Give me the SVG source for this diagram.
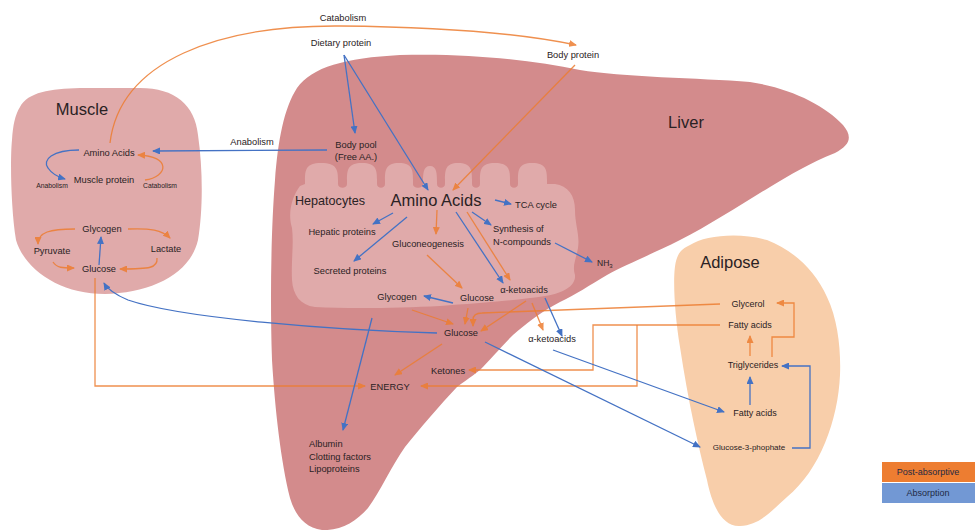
<svg xmlns="http://www.w3.org/2000/svg" width="976" height="530" viewBox="0 0 976 530">
<defs>
<marker id="ao" markerWidth="8" markerHeight="7" refX="7" refY="3.5" orient="auto" markerUnits="userSpaceOnUse"><path d="M0,0 L8,3.5 L0,7 z" fill="#ed7d31"/></marker>
<marker id="ab" markerWidth="8" markerHeight="7" refX="7" refY="3.5" orient="auto" markerUnits="userSpaceOnUse"><path d="M0,0 L8,3.5 L0,7 z" fill="#4472c4"/></marker>
<style>
text{font-family:"Liberation Sans",Arial,sans-serif;fill:#2a2224;font-size:9.3px;text-anchor:middle}
.t{font-size:16.5px}
.s{font-size:6.8px}
.l{text-anchor:start}
.o{fill:none;stroke:#ed7d31;stroke-width:1.3;opacity:0.85}
.b{fill:none;stroke:#4472c4;stroke-width:1.3}
.oa{marker-end:url(#ao)}
.ba{marker-end:url(#ab)}
</style>
</defs>
<rect width="976" height="530" fill="#ffffff"/>

<g id="liver">
<path d="M322,530 C305,528 295,515 290,498 C281,462 275,410 272,360 C270,300 271,230 275,180 C278,140 284,108 297,88 C312,67 345,58 400,55 C470,53 530,60 580,70 C620,77 700,78 750,82 C790,88 825,105 843,125 C853,137 850,145 835,153 C810,163 790,175 770,187 C740,205 710,225 680,240 C650,255 625,265 607,275 C590,285 575,295 560,302 C540,312 525,325 513,335 C500,348 490,360 480,370 C470,378 462,383 457,387 C440,405 420,428 405,447 C392,465 380,492 368,508 C356,522 340,531 322,530 Z" fill="#d38b8c"/>
<text x="686" y="128" class="t">Liver</text>
</g>

<g id="hepatocytes">
<path fill="#e0aaaa" d="M292,228 C287,212 293,195 300,186 L305,184 C305,172 304,163 321,163 C339,163 338,172 338,184 C338,189 347,189 347,184 C347,172 346,163 362,163 C378,163 377,172 377,184 C377,189 385,189 385,184 C385,172 384,163 399,163 C414,163 413,172 413,184 C413,189 423,189 423,184 C423,174 423,166 430,166 C437,166 437,174 437,184 C437,189 445,189 445,184 C445,172 444,163 458,163 C473,163 472,172 472,184 C472,189 480,189 480,184 C480,172 479,163 495,163 C511,163 510,172 510,184 C510,189 518,189 518,184 C518,172 517,163 532,163 C548,163 547,172 547,184 L555,184 C568,186 575,195 575,210 C575,225 580,235 578,248 C576,260 572,265 575,275 C576,285 565,293 545,296 C520,300 480,303 440,306 C400,308 350,309 315,307 C300,305 293,295 292,280 C291,260 294,245 292,228 Z"/>
<text x="330" y="205" style="font-size:12.6px">Hepatocytes</text>
</g>

<g id="muscle">
<path d="M20,107 C28,92 50,89 80,88 L140,88 C175,88 195,105 198,135 C203,170 203,210 198,240 C190,275 150,293 105,294 C60,294 25,270 16,240 C11,210 10,160 12,140 C13,125 15,115 20,107 Z" fill="#e0aaaa"/>
<text x="82" y="115" class="t">Muscle</text>
</g>

<g id="adipose">
<path d="M690,245 C705,235 740,232 767,240 C793,250 815,270 827,297 C838,320 841,350 840,375 C838,420 820,470 787,497 C770,512 760,525 740,526 C722,527 712,505 707,480 C698,445 688,400 680,347 C674,310 672,270 677,258 C680,250 684,248 690,245 Z" fill="#f8ceaa"/>
<text x="730" y="268" class="t">Adipose</text>
</g>

<g id="connectors">
<!-- orange -->
<path class="o oa" d="M110,143 C120,60 220,25 340,26 C440,27 520,33 576,45"/>
<path class="o oa" d="M575,65 L453,190"/>
<path class="o oa" d="M437,210 L436,234"/>
<path class="o oa" d="M467,212 L510,280"/>
<path class="o oa" d="M427,255 L462,288"/>
<path class="o oa" d="M412,310 L453,324"/>
<path class="o oa" d="M468,308 L465,324"/>
<path class="o oa" d="M526,301 L481,331"/>
<path class="o oa" d="M532,303 L543,330"/>
<path class="o oa" d="M720,304 L482,313 C476,313 473,316 473,320 L473,326"/>
<path class="o oa" d="M442,344 L395,375"/>
<path class="o oa" d="M95,278 L95,386 L365,386"/>
<path class="o oa" d="M720,325 L593,325 L593,370 L469,370"/>
<path class="o oa" d="M637,325 L637,386 L421,386"/>
<path class="o oa" d="M145,180 C168,177 172,156 138,155"/>
<path class="o oa" d="M75,229 C50,229 38,232 38,244"/>
<path class="o oa" d="M128,229 C150,228 162,230 170,238"/>
<path class="o oa" d="M53,262 C57,268 62,268 74,268"/>
<path class="o oa" d="M157,258 C158,268 150,269 120,269"/>
<path class="o oa" d="M750,356 L750,336"/>
<path class="o oa" d="M772,357 L772,337 L794,337 L794,303 L777,303"/>
<!-- blue -->
<path class="b ba" d="M344,55 L355,133"/>
<path class="b ba" d="M344,55 L428,190"/>
<path class="b ba" d="M327,150 L153,151"/>
<path class="b ba" d="M495,200 L511,204"/>
<path class="b ba" d="M393,213 L373,224"/>
<path class="b ba" d="M407,217 L354,261"/>
<path class="b ba" d="M472,212 L491,225"/>
<path class="b ba" d="M555,243 L592,262"/>
<path class="b ba" d="M456,212 L503,283"/>
<path class="b ba" d="M453,303 L424,296"/>
<path class="b ba" d="M545,298 L562,336"/>
<path class="b ba" d="M372,318 L343,430"/>
<path class="b ba" d="M437,333 C330,330 180,318 128,300 C116,295 108,290 104,283"/>
<path class="b ba" d="M485,342 L700,447"/>
<path class="b ba" d="M553,350 L724,412"/>
<path class="b ba" d="M79,150 C52,150 42,160 48,168 C52,174 58,177 65,179"/>
<path class="b ba" d="M99,265 L101,237"/>
<path class="b ba" d="M750,405 L750,377"/>
<path class="b ba" d="M792,448 L810,448 L810,366 L782,366"/>
</g>

<g id="catabolism-label"><text x="343" y="21">Catabolism</text></g>
<g id="dietary-protein"><text x="341" y="46">Dietary protein</text></g>
<g id="body-protein"><text x="573" y="58">Body protein</text></g>
<g id="body-pool"><text x="356" y="148">Body pool</text><text x="356" y="160">(Free AA.)</text></g>
<g id="anabolism-label"><text x="252" y="145">Anabolism</text></g>

<g id="m-amino-acids"><text x="109" y="156">Amino Acids</text></g>
<g id="m-muscle-protein"><text x="104" y="183">Muscle protein</text></g>
<g id="m-anabolism"><text x="52" y="188" class="s">Anabolism</text></g>
<g id="m-catabolism"><text x="160" y="188" class="s">Catabolism</text></g>
<g id="m-glycogen"><text x="102" y="232">Glycogen</text></g>
<g id="m-pyruvate"><text x="52" y="254">Pyruvate</text></g>
<g id="m-lactate"><text x="166" y="252">Lactate</text></g>
<g id="m-glucose"><text x="99" y="272">Glucose</text></g>

<g id="h-amino-acids"><text x="436" y="206" style="font-size:16.5px">Amino Acids</text></g>
<g id="tca-cycle"><text x="536" y="208">TCA cycle</text></g>
<g id="hepatic-proteins"><text x="342" y="235">Hepatic proteins</text></g>
<g id="secreted-proteins"><text x="350" y="274">Secreted proteins</text></g>
<g id="gluconeogenesis"><text x="428" y="247">Gluconeogenesis</text></g>
<g id="synthesis"><text x="493" y="232" class="l">Synthesis of</text><text x="493" y="245" class="l">N-compounds</text></g>
<g id="nh3"><text x="597" y="266" class="l" style="font-size:8.5px">NH<tspan dy="2" style="font-size:6px">3</tspan></text></g>
<g id="h-ketoacids"><text x="524" y="293">α-ketoacids</text></g>
<g id="h-glucose"><text x="477" y="301">Glucose</text></g>
<g id="l-glycogen"><text x="397" y="300">Glycogen</text></g>
<g id="l-glucose"><text x="461" y="336">Glucose</text></g>
<g id="l-ketoacids"><text x="552" y="342">α-ketoacids</text></g>
<g id="ketones"><text x="448" y="374">Ketones</text></g>
<g id="energy"><text x="390" y="390">ENERGY</text></g>
<g id="plasma-proteins"><text x="309" y="447" class="l">Albumin</text><text x="309" y="460" class="l">Clotting factors</text><text x="309" y="472" class="l">Lipoproteins</text></g>

<g id="a-glycerol"><text x="748" y="307" style="font-size:9px">Glycerol</text></g>
<g id="a-fatty-acids-1"><text x="750" y="328" style="font-size:9px">Fatty acids</text></g>
<g id="a-triglycerides"><text x="753" y="368" style="font-size:9px">Triglycerides</text></g>
<g id="a-fatty-acids-2"><text x="755" y="416" style="font-size:9px">Fatty acids</text></g>
<g id="a-g3p"><text x="749" y="450" style="font-size:8px">Glucose-3-phophate</text></g>

<g id="legend">
<rect x="882" y="462" width="93" height="20" fill="#ed7d31"/>
<rect x="882" y="483" width="93" height="20" fill="#7298d4"/>
<text x="928" y="475" style="font-size:9px;fill:#1f2a44">Post-absorptive</text>
<text x="928" y="496" style="font-size:9px;fill:#1f2a44">Absorption</text>
</g>
</svg>
